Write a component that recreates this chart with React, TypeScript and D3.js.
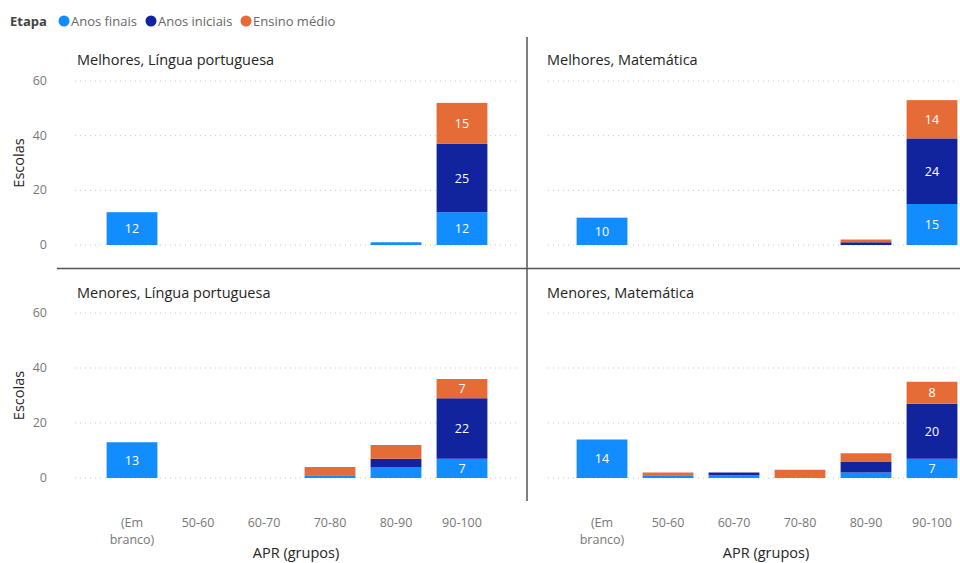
import React from 'react';
import * as d3 from 'd3';

// APR groups (x categories) and stack series
const categories = ['(Em branco)', '50-60', '60-70', '70-80', '80-90', '90-100'];
const seriesNames = ['Anos finais', 'Anos iniciais', 'Ensino médio'];
const seriesColors = ['#118DFF', '#12239E', '#E66C37'];
const yTicks = [0, 20, 40, 60];

// values per category: [Anos finais, Anos iniciais, Ensino médio]
const melhoresPortugues = [[12, 0, 0], [0, 0, 0], [0, 0, 0], [0, 0, 0], [1, 0, 0], [12, 25, 15]];
const melhoresMatematica = [[10, 0, 0], [0, 0, 0], [0, 0, 0], [0, 0, 0], [0, 1, 1], [15, 24, 14]];
const menoresPortugues = [[13, 0, 0], [0, 0, 0], [0, 0, 0], [1, 0, 3], [4, 3, 5], [7, 22, 7]];
const menoresMatematica = [[14, 0, 0], [1, 0, 1], [1, 1, 0], [0, 0, 3], [2, 4, 3], [7, 20, 8]];

const panelTitles = [
  'Melhores, Língua portuguesa',
  'Melhores, Matemática',
  'Menores, Língua portuguesa',
  'Menores, Matemática',
];
const panelValues = [melhoresPortugues, melhoresMatematica, menoresPortugues, menoresMatematica];

const FONT = '"Segoe UI", "Open Sans", "Noto Sans", sans-serif';

export default function App() {
  const width = 960;
  const height = 563;

  // column geometry
  const cols = [
    { range: [99, 495] as [number, number], grid: [75, 517], titleX: 77 },
    { range: [569, 965] as [number, number], grid: [548, 958], titleX: 547 },
  ];
  // row geometry
  const rows = [
    { range: [245, 81] as [number, number], titleY: 65 },
    { range: [478, 313] as [number, number], titleY: 298 },
  ];

  const xScales = cols.map((c) =>
    d3.scaleBand<string>().domain(categories).range(c.range).paddingInner(0.23).paddingOuter(0.115)
  );
  const yScales = rows.map((r) => d3.scaleLinear().domain([0, 60]).range(r.range));

  const stack = d3.stack<number[], number>().keys([0, 1, 2]).value((d, k) => d[k]);

  const legendItems = [
    { x: 68, label: seriesNames[0] },
    { x: 155, label: seriesNames[1] },
    { x: 250, label: seriesNames[2] },
  ];

  return (
    <svg width={width} height={height} style={{ position: 'absolute', left: 0, top: 0, fontFamily: FONT }}>
      <rect width={width} height={height} fill="#ffffff" />

      {/* Legend */}
      <text x={10} y={26} fontSize={13} fontWeight={700} fill="#444">Etapa</text>
      {legendItems.map((item, i) => (
        <g key={item.label}>
          <circle cx={item.x - 4} cy={21} r={5.5} fill={seriesColors[i]} />
          <text x={item.x + 3} y={26} fontSize={13} fill="#666">{item.label}</text>
        </g>
      ))}

      {/* Dividers */}
      <line x1={527} x2={527} y1={37} y2={501} stroke="#555" strokeWidth={1.5} />
      <line x1={57} x2={960} y1={268.5} y2={268.5} stroke="#555" strokeWidth={1.5} />

      {panelValues.map((values, p) => {
        const r = Math.floor(p / 2);
        const c = p % 2;
        const x = xScales[c];
        const y = yScales[r];
        const layers = stack(values);
        return (
          <g key={p}>
            <text x={cols[c].titleX} y={rows[r].titleY} fontSize={14.5} fill="#252423">
              {panelTitles[p]}
            </text>
            {yTicks.map((t) => (
              <line
                key={t}
                x1={cols[c].grid[0]}
                x2={cols[c].grid[1]}
                y1={y(t)}
                y2={y(t)}
                stroke="#c8c6c4"
                strokeWidth={1}
                strokeDasharray="1,4"
              />
            ))}
            {c === 0 &&
              yTicks.map((t) => (
                <text key={t} x={47} y={y(t) + 4} fontSize={12.5} fill="#777" textAnchor="end">
                  {t}
                </text>
              ))}
            {layers.map((layer, k) => (
              <g key={k}>
                {layer.map((d, i) => {
                  const v = d[1] - d[0];
                  if (v <= 0) return null;
                  const h = y(d[0]) - y(d[1]);
                  return (
                    <g key={i}>
                      <rect
                        x={x(categories[i])}
                        y={y(d[1])}
                        width={x.bandwidth()}
                        height={h}
                        fill={seriesColors[k]}
                      />
                      {h > 16 && (
                        <text
                          x={(x(categories[i]) as number) + x.bandwidth() / 2}
                          y={(y(d[0]) + y(d[1])) / 2 + 4.5}
                          fontSize={12.5}
                          fill="#ffffff"
                          textAnchor="middle"
                        >
                          {v}
                        </text>
                      )}
                    </g>
                  );
                })}
              </g>
            ))}
          </g>
        );
      })}

      {/* Y axis titles */}
      {rows.map((r, i) => (
        <text
          key={i}
          transform={`translate(24,${(r.range[0] + r.range[1]) / 2}) rotate(-90)`}
          fontSize={14.5}
          fill="#252423"
          textAnchor="middle"
        >
          Escolas
        </text>
      ))}

      {/* X axis labels */}
      {xScales.map((x, c) => (
        <g key={c}>
          {categories.map((cat) => {
            const cx = (x(cat) as number) + x.bandwidth() / 2;
            if (cat === '(Em branco)') {
              return (
                <text key={cat} x={cx} y={527} fontSize={12.5} fill="#777" textAnchor="middle">
                  <tspan x={cx}>(Em</tspan>
                  <tspan x={cx} dy={17}>branco)</tspan>
                </text>
              );
            }
            return (
              <text key={cat} x={cx} y={527} fontSize={12.5} fill="#777" textAnchor="middle">
                {cat}
              </text>
            );
          })}
          <text
            x={(x.range()[0] + x.range()[1]) / 2 - 1}
            y={558}
            fontSize={14.5}
            fill="#252423"
            textAnchor="middle"
          >
            APR (grupos)
          </text>
        </g>
      ))}
    </svg>
  );
}
